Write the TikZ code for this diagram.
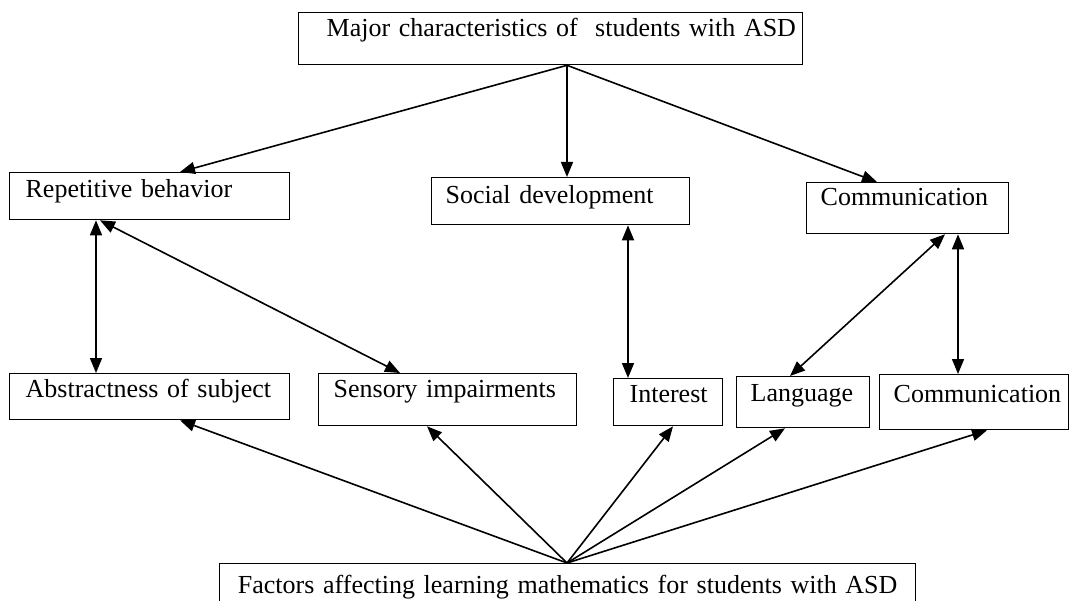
\documentclass[tikz,border=0pt]{standalone}
\usepackage{fontspec}
\setmainfont{Liberation Serif}
\usetikzlibrary{arrows.meta}
\tikzset{
  cbox/.style n args={4}{draw, line width=1.3pt, anchor=north west,
    inner xsep=0pt, inner ysep=0pt, align=left,
    font=\fontsize{26}{31}\selectfont,
    text width=#1pt, text height=#3pt, text depth=#4pt,
    execute at begin node={\hspace*{#2pt}}},
  tip/.style={Triangle[length=15pt,width=12pt]},
  arr/.style={-{Triangle[length=15pt,width=12pt]}, line width=1.6pt},
  darr/.style={{Triangle[length=15pt,width=12pt]}-{Triangle[length=15pt,width=12pt]}, line width=1.6pt},
}
\begin{document}
\begin{tikzpicture}[x=1pt,y=-1pt]
   \useasboundingbox (0,0) rectangle (1070,601);
   \clip (0,0) rectangle (1070,601);

   \node[cbox={504}{28}{24}{28}] (major) at (298,12) {Major characteristics of~ students with ASD};

   \node[cbox={280}{16}{25}{22}] (rep) at (9,172) {Repetitive behavior};
   \node[cbox={258}{14}{26}{21}] (soc) at (431,177) {Social development};
   \node[cbox={202}{14}{23}{28}] (com) at (806,182) {Communication};

   \node[cbox={280}{16}{24}{22}] (abs) at (9,373) {Abstractness of subject};
   \node[cbox={258}{15}{24}{28}] (sen) at (318,373) {Sensory impairments};
   \node[cbox={109}{16}{24}{23}] (int) at (613,378) {Interest};
   \node[cbox={133}{14}{25}{26}] (lan) at (736,376) {Language};
   \node[cbox={189}{14}{28}{27}] (comb) at (879,374) {Communication};

   \node[cbox={696}{0}{30}{30}, align=center] (fac) at (219,563) {Factors affecting learning mathematics for students with ASD};

   \coordinate (hub) at ([xshift=269pt]major.south west);
   \coordinate (fhub) at ([xshift=348pt]fac.north west);

   \path[arr]
   (hub) edge ([xshift=171pt]rep.north west)
   (hub) edge ([xshift=136pt]soc.north west)
   (hub) edge ([xshift=71pt]com.north west);

   \path[darr]
   ([xshift=87pt]rep.south west) edge ([xshift=87pt]abs.north west)
   ([xshift=91pt]rep.south west) edge ([xshift=82pt]sen.north west)
   ([xshift=197pt]soc.south west) edge ([xshift=15pt]int.north west)
   ([xshift=139pt]com.south west) edge ([xshift=54pt]lan.north west)
   ([xshift=152pt]com.south west) edge ([xshift=79pt]comb.north west);

   \path[arr]
   (fhub) edge ([xshift=171pt]abs.south west)
   (fhub) edge ([xshift=109pt]sen.south west)
   (fhub) edge ([xshift=60pt]int.south west)
   (fhub) edge ([xshift=49pt]lan.south west)
   (fhub) edge ([xshift=108pt]comb.south west);
\end{tikzpicture}
\end{document}
